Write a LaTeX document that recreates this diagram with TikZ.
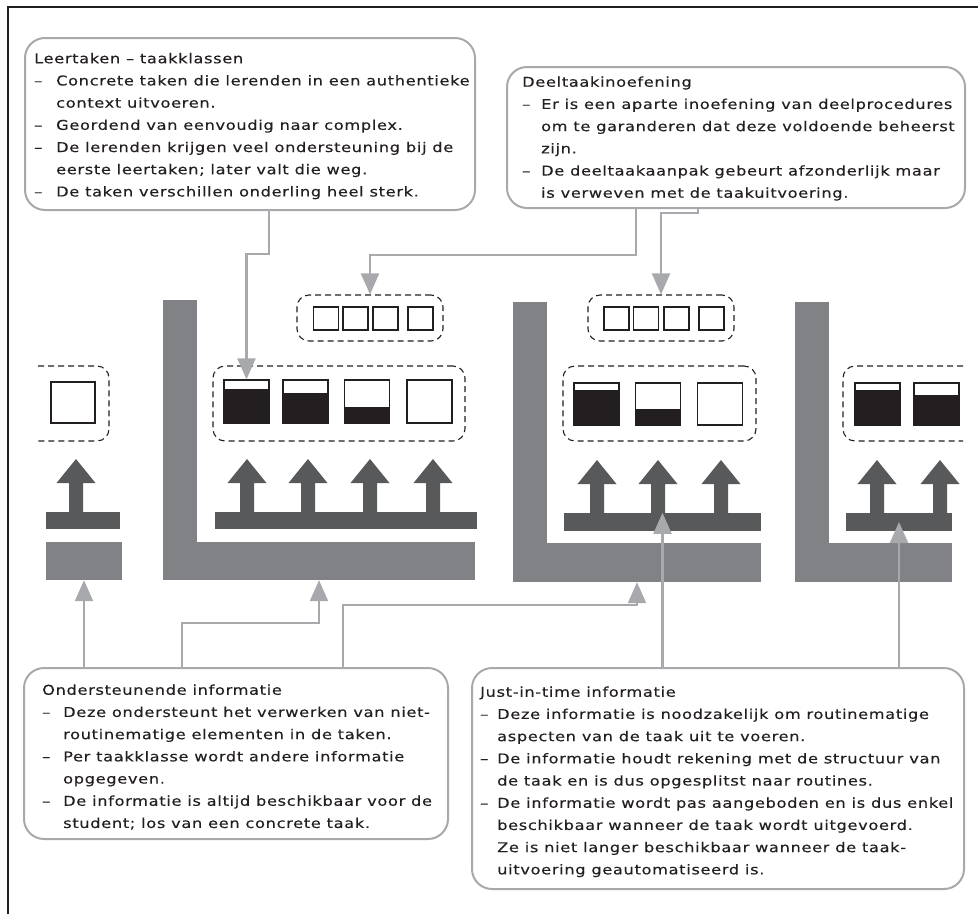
\documentclass[tikz,border=0pt]{standalone}
\usepackage{fontspec}
\setmainfont{DejaVu Sans}[FakeStretch=1.2,LetterSpace=5,FakeBold=0.3]
\usetikzlibrary{arrows.meta,calc}

\definecolor{ink}{RGB}{35,31,32}
\definecolor{dgray}{RGB}{88,89,91}
\definecolor{mgray}{RGB}{128,130,133}
\definecolor{lgray}{RGB}{167,169,172}

% dash bullet and hanging indent for the callout lists
\newcommand\bl[1]{\makebox[#1][l]{–}}
\newcommand\ct[1]{\hspace*{#1}}

\begin{document}
\begin{tikzpicture}[x=1pt,y=-1pt,
  callout/.style={draw=lgray, line width=2pt, rounded corners=20pt, inner sep=0pt},
  txt/.style={anchor=north west, inner sep=0pt, align=left, text=ink,
              font=\fontsize{13.5}{22.2}\selectfont},
  conn/.style={draw=lgray, line width=2.2pt, -{Triangle[width=18pt,length=21pt]}},
  grp/.style={draw=ink, dash pattern=on 6pt off 4pt, line width=1.1pt,
              rounded corners=12pt, inner sep=0pt},
  bigsq/.style={draw=ink, line width=1.3pt, fill=white, inner sep=0pt,
                minimum width=45pt, minimum height=43pt},
  smallsq/.style={draw=ink, line width=1.3pt, inner sep=0pt,
                  minimum width=25pt, minimum height=23pt},
  level/.style={path picture={\fill[ink] (path picture bounding box.south west)
      rectangle ($(path picture bounding box.south east)!#1!(path picture bounding box.north east)$);}},
  bar/.style={fill=dgray, inner sep=0pt, minimum height=18pt},
  lbar/.style={fill=mgray, inner sep=0pt},
  uparr/.pic={\fill[dgray] (-7,1) -- (-7,-29) -- (-19.5,-29) -- (0,-53)
                -- (19.5,-29) -- (7,-29) -- (7,1) -- cycle;}
]
\useasboundingbox (0,0) rectangle (978,914);

% frame
\draw[ink, line width=1.3pt] (8,914) -- (8,7) -- (978,7);

% ---------- left (cut off) stage ----------
\draw[grp] (38,366) -- (109,366) -- (109,441) -- (38,441);
\node[bigsq, minimum width=44pt, minimum height=41pt] (t01) at (73,402.5) {};
\node[bar, minimum width=74pt, minimum height=17pt] (bar0) at (83,520.5) {};
\pic at (76,512) {uparr};
\node[lbar, minimum width=76pt, minimum height=38pt] (blk) at (84,561) {};

% ---------- stage 1 ----------
\fill[mgray] (163,300) rectangle (197,580);
\node[lbar, minimum width=312pt, minimum height=38pt] (L1h) at (319,561) {};
\node[grp, draw, minimum width=146pt, minimum height=46pt] (s1) at (370,318) {};
\node[smallsq] (s11) at (326,318.5) {};
\node[smallsq] (s12) at (355.5,318.5) {};
\node[smallsq] (s13) at (385.5,318.5) {};
\node[smallsq] (s14) at (420.5,318.5) {};
\node[grp, draw, minimum width=252pt, minimum height=75pt] (g1) at (339,403.5) {};
\node[bigsq, level=0.79] (t11) at (246.5,401.5) {};
\node[bigsq, level=0.70] (t12) at (305.5,401.5) {};
\node[bigsq, level=0.37] (t13) at (367,401.5) {};
\node[bigsq] (t14) at (429.5,401.5) {};
\node[bar, minimum width=262pt, minimum height=17pt] (bar1) at (346,520.5) {};
\foreach \xa in {247,308,370,433} \pic at (\xa,512) {uparr};

% ---------- stage 2 ----------
\fill[mgray] (513,302) rectangle (547,582);
\node[lbar, minimum width=248pt, minimum height=39pt] (L2h) at (637,562.5) {};
\node[grp, draw, minimum width=146pt, minimum height=46pt] (s2) at (661,318) {};
\node[smallsq] (s21) at (616.5,318.5) {};
\node[smallsq] (s22) at (646,318.5) {};
\node[smallsq] (s23) at (676.5,318.5) {};
\node[smallsq] (s24) at (711.5,318.5) {};
\node[grp, draw, minimum width=193pt, minimum height=75pt] (g2) at (659.5,403.5) {};
\node[bigsq, minimum height=42pt, level=0.83] (t21) at (596.5,404) {};
\node[bigsq, minimum height=42pt, level=0.38] (t22) at (658,404) {};
\node[bigsq, minimum height=42pt] (t23) at (720,404) {};
\node[bar, minimum width=197pt] (bar2) at (662.5,522) {};
\foreach \xa in {597,658,721} \pic at (\xa,513) {uparr};

% ---------- stage 3 (cut off) ----------
\fill[mgray] (795,302) rectangle (829,582);
\node[lbar, minimum width=157pt, minimum height=39pt] (L3h) at (873.5,562.5) {};
\draw[grp] (963,366) -- (843,366) -- (843,441) -- (963,441);
\node[bigsq, minimum height=42pt, level=0.83] (t31) at (877.5,404) {};
\node[bigsq, minimum height=42pt, level=0.71] (t32) at (936.5,404) {};
\node[bar, minimum width=106pt] (bar3) at (899,522) {};
\foreach \xa in {877,940} \pic at (\xa,513) {uparr};

% ---------- callouts ----------
\node[callout, minimum width=450pt, minimum height=172pt] (c1) at (250,124) {};
\node[txt] (c1t) at (34,47.5) {\strut Leertaken – taakklassen\\
\bl{22pt}Concrete taken die lerenden in een authentieke\\
\ct{22pt}context uitvoeren.\\
\bl{22pt}Geordend van eenvoudig naar complex.\\
\bl{22pt}De lerenden krijgen veel ondersteuning bij de\\
\ct{22pt}eerste leertaken; later valt die weg.\\
\bl{22pt}De taken verschillen onderling heel sterk.};

\node[callout, minimum width=458pt, minimum height=141pt] (c2) at (736,137.5) {};
\node[txt] (c2t) at (522,71) {\strut Deeltaakinoefening\\
\bl{19pt}Er is een aparte inoefening van deelprocedures\\
\ct{19pt}om te garanderen dat deze voldoende beheerst\\
\ct{19pt}zijn.\\
\bl{19pt}De deeltaakaanpak gebeurt afzonderlijk maar\\
\ct{19pt}is verweven met de taakuitvoering.};

\node[callout, minimum width=424pt, minimum height=171pt] (c3) at (236,753.5) {};
\node[txt] (c3t) at (42,679) {\strut Ondersteunende informatie\\
\bl{21pt}Deze ondersteunt het verwerken van niet-\\
\ct{21pt}routinematige elementen in de taken.\\
\bl{21pt}Per taakklasse wordt andere informatie\\
\ct{21pt}opgegeven.\\
\bl{21pt}De informatie is altijd beschikbaar voor de\\
\ct{21pt}student; los van een concrete taak.};

\node[callout, minimum width=492pt, minimum height=221pt] (c4) at (718,778.5) {};
\node[txt] (c4t) at (480,681) {\strut Just-in-time informatie\\
\bl{17pt}Deze informatie is noodzakelijk om routinematige\\
\ct{17pt}aspecten van de taak uit te voeren.\\
\bl{17pt}De informatie houdt rekening met de structuur van\\
\ct{17pt}de taak en is dus opgesplitst naar routines.\\
\bl{17pt}De informatie wordt pas aangeboden en is dus enkel\\
\ct{17pt}beschikbaar wanneer de taak wordt uitgevoerd.\\
\ct{17pt}Ze is niet langer beschikbaar wanneer de taak-\\
\ct{17pt}uitvoering geautomatiseerd is.};

% ---------- connectors ----------
\draw[conn] ([xshift=245pt]c1.south west) -- ++(0,43) -| (t11.north);
\draw[conn] ([xshift=130pt]c2.south west) -- ++(0,46) -| (s1.north);
\draw[conn] ([xshift=192pt]c2.south west) -- ++(0,4) -| (s2.north);

\draw[conn] (c3.north -| blk.south) -- (blk.south);
\draw[conn] ([xshift=159pt]c3.north west) -- ++(0,-44) -| (L1h.south);
\draw[conn] ([xshift=320pt]c3.north west) -- ++(0,-62) -| (L2h.south);
\draw[conn] (c4.north -| bar2.north) -- (bar2.north);
\draw[conn] (c4.north -| bar3.center) -- (bar3.center);
\end{tikzpicture}
\end{document}
